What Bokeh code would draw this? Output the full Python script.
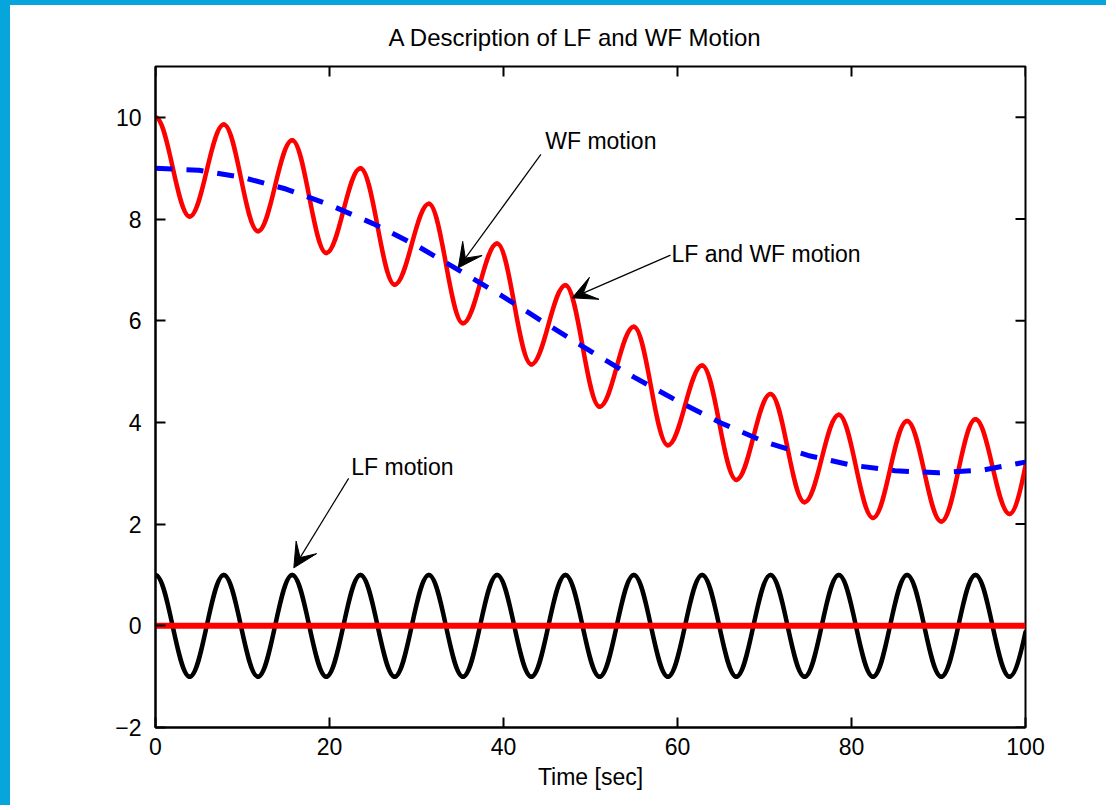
from bokeh.plotting import figure
from bokeh.models import Range1d, FixedTicker, Label, Arrow, VeeHead, ColumnDataSource
from bokeh.embed import file_html
from bokeh.resources import INLINE

# ---------------- data ----------------
# times of the turning points of the oscillation (peaks / troughs), then the last sample at t = 100
swing_time = [0, 3.93, 7.85, 11.78, 15.71, 19.63, 23.56, 27.49, 31.42, 35.34, 39.27, 43.2,
              47.12, 51.05, 54.98, 58.9, 62.83, 66.76, 70.69, 74.61, 78.54, 82.47, 86.39,
              90.32, 94.25, 98.17, 100]
# LF motion (black) at those times
lf_value = [1, -1, 1, -1, 1, -1, 1, -1, 1, -1, 1, -1, 1, -1, 1, -1, 1, -1, 1, -1, 1, -1, 1,
            -1, 1, -1, -0.12]
# LF and WF motion (red) at those times
total_value = [10.0, 8.05, 9.86, 7.76, 9.55, 7.33, 9.0, 6.71, 8.3, 5.95, 7.52, 5.14, 6.7,
               4.31, 5.88, 3.55, 5.12, 2.87, 4.56, 2.43, 4.15, 2.12, 4.03, 2.05, 4.06, 2.2,
               3.15]
# WF motion (blue dashed), read every 5 s
wf_time = [0, 5, 10, 15, 20, 25, 30, 35, 40, 45, 50, 55, 60, 65, 70, 75, 80, 85, 90, 95, 100]
wf_value = [9.0, 8.96, 8.82, 8.59, 8.28, 7.91, 7.48, 6.98, 6.47, 5.93, 5.40, 4.89, 4.42,
            3.99, 3.62, 3.35, 3.16, 3.05, 3.01, 3.06, 3.22]
# red zero line
zero_time = [0, 100]
zero_value = [0, 0]

x_ticks = [0, 20, 40, 60, 80, 100]
y_ticks = [-2, 0, 2, 4, 6, 8, 10]
x_lim = [0, 100]
y_lim = [-2, 11]

title_text = "A Description of LF and WF Motion"
x_label = "Time [sec]"
# annotations: text, text anchor (x, y), arrow start (x, y), arrow tip (x, y)
notes = ["WF motion", "LF and WF motion", "LF motion"]
note_x = [44.8, 59.3, 22.5]
note_y = [9.53, 7.31, 3.12]
arrow_x0 = [44.3, 59.2, 22.2]
arrow_y0 = [9.27, 7.29, 2.9]
arrow_x1 = [34.8, 47.9, 15.9]
arrow_y1 = [7.04, 6.45, 1.14]

FONT = "Liberation Sans"
FS = "23px"
BLUE_EDGE = "#06a6dc"
FRAME_W, FRAME_H = 870, 662
TICK_PX = 10


def swing_segments(ts, ys):
    """Cubic Bezier pieces between consecutive turning points (horizontal tangents)."""
    d = dict(x0=[], y0=[], x1=[], y1=[], cx0=[], cy0=[], cx1=[], cy1=[])
    n = len(ts)
    for i in range(n - 1):
        t0, y0, t1, y1 = ts[i], ys[i], ts[i + 1], ys[i + 1]
        L = t1 - t0
        d["x0"].append(t0); d["y0"].append(y0); d["x1"].append(t1); d["y1"].append(y1)
        if i == n - 2:  # last piece ends mid-swing
            d["cx0"].append(t0 + L / 3); d["cy0"].append(y0)
            d["cx1"].append(t1 - L / 3); d["cy1"].append(y1 - 0.55 * (y1 - y0))
        else:
            d["cx0"].append(t0 + 0.3634 * L); d["cy0"].append(y0)
            d["cx1"].append(t1 - 0.3634 * L); d["cy1"].append(y1)
    return ColumnDataSource(d)


p = figure(width=1106, height=805, x_range=Range1d(*x_lim), y_range=Range1d(*y_lim),
           output_backend="svg", toolbar_location=None,
           min_border_left=145, min_border_right=91, min_border_top=60, min_border_bottom=83)
p.styles = {"border-left": "10px solid " + BLUE_EDGE, "border-top": "5px solid " + BLUE_EDGE}
p.background_fill_color = "white"
p.border_fill_color = "white"
p.grid.visible = False
p.outline_line_color = "black"
p.outline_line_width = 2

# title
p.title.text = title_text
p.title.text_font = FONT
p.title.text_font_size = "24px"
p.title.text_font_style = "normal"
p.title.text_color = "black"
p.title.align = "left"
p.title.offset = 233
p.title.standoff = 32

for ax in (p.xaxis[0], p.yaxis[0]):
    ax.major_tick_in = TICK_PX
    ax.major_tick_out = 0
    ax.minor_tick_in = 0
    ax.minor_tick_out = 0
    ax.axis_line_width = 2
    ax.major_tick_line_width = 2
    ax.major_label_text_font = FONT
    ax.major_label_text_font_size = FS
    ax.major_label_text_color = "black"
p.xaxis.ticker = FixedTicker(ticks=x_ticks)
p.yaxis.ticker = FixedTicker(ticks=y_ticks)
p.yaxis.major_label_overrides = {-2: "\u22122"}
p.yaxis.major_label_standoff = 14
p.xaxis.major_label_standoff = 10
p.xaxis.axis_label = x_label
p.xaxis.axis_label_text_font = FONT
p.xaxis.axis_label_text_font_size = FS
p.xaxis.axis_label_text_font_style = "normal"
p.xaxis.axis_label_text_color = "black"
p.xaxis.axis_label_standoff = 6

# inward ticks on the top and right edges of the box
dx = TICK_PX * (x_lim[1] - x_lim[0]) / FRAME_W
dy = TICK_PX * (y_lim[1] - y_lim[0]) / FRAME_H
p.segment(x0=x_ticks, y0=[y_lim[1]] * len(x_ticks), x1=x_ticks, y1=[y_lim[1] - dy] * len(x_ticks),
          line_color="black", line_width=2)
p.segment(x0=[x_lim[1]] * len(y_ticks), y0=y_ticks, x1=[x_lim[1] - dx] * len(y_ticks), y1=y_ticks,
          line_color="black", line_width=2)

# LF motion (black)
p.bezier(x0="x0", y0="y0", x1="x1", y1="y1", cx0="cx0", cy0="cy0", cx1="cx1", cy1="cy1",
         source=swing_segments(swing_time, lf_value), line_color="black", line_width=4.5,
         line_cap="round")
# LF and WF motion (red)
p.bezier(x0="x0", y0="y0", x1="x1", y1="y1", cx0="cx0", cy0="cy0", cx1="cx1", cy1="cy1",
         source=swing_segments(swing_time, total_value), line_color="#ff0000", line_width=4.5,
         line_cap="round")
# WF motion (blue dashed)
p.line(wf_time, wf_value, line_color="#0000ff", line_width=5, line_dash="17 14")
# zero line (red)
p.line(zero_time, zero_value, line_color="#ff0000", line_width=6)

for i, t in enumerate(notes):
    p.add_layout(Arrow(end=VeeHead(size=24, fill_color="black", fill_alpha=1.0,
                                   line_color="black", line_width=1),
                       x_start=arrow_x0[i], y_start=arrow_y0[i], x_end=arrow_x1[i], y_end=arrow_y1[i],
                       line_color="black", line_width=1.2))
    p.add_layout(Label(x=note_x[i], y=note_y[i], text=t, text_font=FONT, text_font_size=FS,
                       text_align="left", text_baseline="middle", text_color="black"))

open("out.html", "w").write(file_html(p, INLINE))
